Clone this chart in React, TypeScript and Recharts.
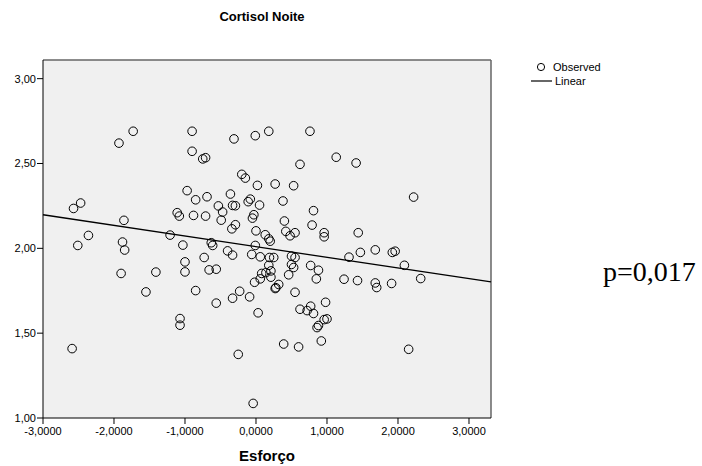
import React from 'react';
import { ScatterChart, Scatter, XAxis, YAxis, CartesianGrid, ReferenceLine } from 'recharts';

// Esforço (x) and Cortisol Noite (y)
const esforco = [
  -2.57, -2.47, -1.93, -1.73, -1.86, -2.36, -2.51, -1.88, -1.85, -1.21,
  -1.03, -0.9, -0.9, -0.75, -0.71, -0.97, -0.85, -0.69, -1.11, -1.08,
  -0.88, -0.71, -0.31, -0.01, -0.36, -0.53, -0.47, -0.49, -0.33, -0.29,
  -0.34, -0.29, -0.2, -0.15, -0.11, -0.08, -0.05, -0.03, 0.0, 0.02,
  0.05, -0.63, -0.61, -0.4, -0.01, 0.18, 0.76, 1.13, 1.41, 0.62,
  0.27, 0.53, 2.22, 0.38, 0.81, 0.4, 0.79, 0.13, 0.18, 0.2,
  0.42, 0.48, 0.55, 0.96, 0.96, 1.44, -0.06, 0.06, 0.19, 0.25,
  0.18, 0.08, 0.14, 0.21, 0.21, 0.06, -0.02, 0.27, 0.32, 0.5,
  0.55, 0.5, 0.53, 0.46, 0.55, 0.77, 0.88, 0.85, 1.31, 1.47,
  1.68, 1.92, 1.96, 2.09, 2.32, 1.24, 1.43, 1.68, 1.7, 1.91,
  -0.09, 0.03, -0.23, -0.25, -0.04, 0.62, 0.72, 0.77, 0.81, 0.98,
  0.96, 1.0, 0.86, 0.88, 0.92, 0.39, 0.6, 2.15, -1.9, -1.41,
  -1.55, -2.59, -1.07, -1.07, -1.0, -1.0, -0.85, -0.73, -0.66, -0.56,
  -0.56, -0.33, -0.33, 0.28,
];
const cortisol = [
  2.235, 2.267, 2.62, 2.69, 2.165, 2.076, 2.017, 2.037, 1.99, 2.078,
  2.019, 2.69, 2.572, 2.527, 2.534, 2.34, 2.286, 2.304, 2.21, 2.19,
  2.194, 2.19, 2.645, 2.664, 2.32, 2.25, 2.214, 2.166, 2.253, 2.251,
  2.115, 2.139, 2.436, 2.414, 2.275, 2.29, 2.178, 2.198, 2.103, 2.371,
  2.255, 2.033, 2.017, 1.985, 2.017, 2.69, 2.69, 2.537, 2.503, 2.495,
  2.379, 2.369, 2.302, 2.279, 2.222, 2.161, 2.137, 2.08, 2.056, 2.042,
  2.1, 2.074, 2.092, 2.092, 2.068, 2.092, 1.964, 1.95, 1.946, 1.946,
  1.9, 1.852, 1.857, 1.867, 1.83, 1.82, 1.8, 1.763, 1.787, 1.954,
  1.946, 1.905, 1.887, 1.844, 1.741, 1.899, 1.871, 1.82, 1.948, 1.976,
  1.991, 1.976, 1.983, 1.9, 1.822, 1.818, 1.81, 1.796, 1.769, 1.793,
  1.714, 1.62, 1.747, 1.375, 1.086, 1.641, 1.633, 1.659, 1.616, 1.682,
  1.58, 1.584, 1.533, 1.545, 1.454, 1.436, 1.419, 1.405, 1.852, 1.86,
  1.743, 1.409, 1.586, 1.547, 1.92, 1.861, 1.751, 1.946, 1.873, 1.877,
  1.677, 1.96, 1.706, 1.768,
];

// linear fit, end points at the edges of the plot
const fitX = [-3, 3.31];
const fitY = [2.198, 1.802];

const xTicks = [-3, -2, -1, 0, 1, 2, 3];
const yTicks = [1, 1.5, 2, 2.5, 3];

const points = esforco.map((x, i) => ({ x, y: cortisol[i] }));

const font = '"Liberation Sans", Arial, sans-serif';

const OpenCircle = (props: any) => (
  <circle cx={props.cx} cy={props.cy} r={4.3} fill="none" stroke="#000" strokeWidth={1} />
);

export default function App() {
  return (
    <div style={{ position: 'absolute', left: 0, top: 0, width: 702, height: 466, background: '#fff', fontFamily: font }}>
      <div style={{ position: 'absolute', left: 0, width: 524, top: 9, textAlign: 'center', fontSize: 13, fontWeight: 'bold' }}>
        Cortisol Noite
      </div>

      <ScatterChart width={702} height={466} margin={{ top: 60, right: 211, bottom: 0, left: 0 }}>
        <CartesianGrid horizontal={false} vertical={false} fill="#f0f0f0" />
        <XAxis
          type="number"
          dataKey="x"
          domain={[-3, 3.31]}
          ticks={xTicks}
          allowDataOverflow
          height={48}
          stroke="#000"
          tickSize={6}
          tickMargin={3}
          tick={{ fill: '#000', fontSize: 11, fontFamily: font }}
          tickFormatter={(v: number) => v.toFixed(4).replace('.', ',')}
          label={{ value: 'Esforço', position: 'insideBottom', offset: 5, fill: '#000', fontSize: 15, fontWeight: 'bold', fontFamily: font }}
        />
        <YAxis
          type="number"
          dataKey="y"
          domain={[1, 3.11]}
          ticks={yTicks}
          allowDataOverflow
          width={43}
          stroke="#000"
          tickSize={6}
          tickMargin={1}
          tick={{ fill: '#000', fontSize: 11, fontFamily: font }}
          tickFormatter={(v: number) => v.toFixed(2).replace('.', ',')}
        />
        <ReferenceLine y={3.11} stroke="#666" strokeWidth={1.5} />
        <ReferenceLine x={3.31} stroke="#666" strokeWidth={1.5} />
        <Scatter data={points} shape={OpenCircle} isAnimationActive={false} />
        <ReferenceLine
          segment={[{ x: fitX[0], y: fitY[0] }, { x: fitX[1], y: fitY[1] }]}
          stroke="#000"
          strokeWidth={1.3}
        />
      </ScatterChart>

      <svg style={{ position: 'absolute', left: 525, top: 58 }} width={100} height={32}>
        <circle cx={16} cy={9} r={3.6} fill="none" stroke="#000" strokeWidth={1} />
        <text x={28} y={13} fontSize={11} fontFamily={font} fill="#000">Observed</text>
        <line x1={6} x2={27} y1={23} y2={23} stroke="#000" strokeWidth={1.2} />
        <text x={30} y={27} fontSize={11} fontFamily={font} fill="#000">Linear</text>
      </svg>

      <div style={{ position: 'absolute', left: 603, top: 256, fontSize: 28, lineHeight: '32px', fontFamily: '"Liberation Serif", "Times New Roman", serif' }}>
        p=0,017
      </div>
    </div>
  );
}
